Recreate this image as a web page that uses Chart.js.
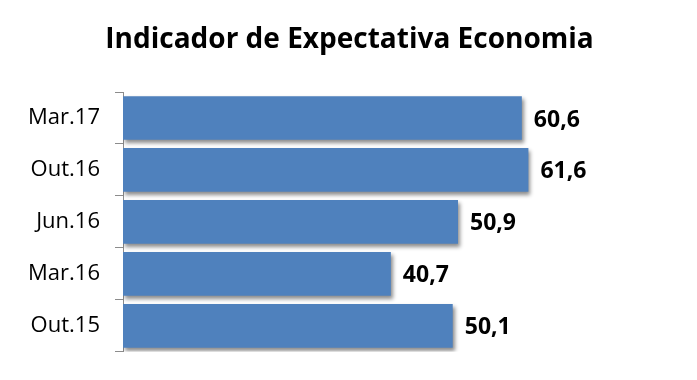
<!DOCTYPE html>
<html>
<head>
<meta charset="utf-8">
<script src="https://cdn.jsdelivr.net/npm/chart.js@4"></script>
<style>
  html, body { margin: 0; padding: 0; background: #fff; }
  #wrap { width: 697px; height: 380px; }
</style>
</head>
<body>
<div id="wrap"><canvas id="chart" width="697" height="380"></canvas></div>
<script>
/* Indicador de Expectativa Economia — horizontal bars */

const categories = ["Mar.17", "Out.16", "Jun.16", "Mar.16", "Out.15"];
const values     = [60.6, 61.6, 50.9, 40.7, 50.1];
const xMin = 0;
const xMax = 86;

// ── Soft shadow under the bars ────────────────────────────────────────────────
const barShadow = {
  id: "barShadow",
  beforeDatasetsDraw(chart) {
    const c = chart.ctx;
    c.save();
    c.shadowColor   = "rgba(0,0,0,0.45)";
    c.shadowBlur    = 4;
    c.shadowOffsetX = 2;
    c.shadowOffsetY = 3;
  },
  afterDatasetsDraw(chart) {
    chart.ctx.restore();
  },
};

// ── Value labels at bar ends ──────────────────────────────────────────────────
const valueLabels = {
  id: "valueLabels",
  afterDraw(chart) {
    const c = chart.ctx;
    const meta = chart.getDatasetMeta(0);
    c.save();
    c.font = "bold 23px 'Open Sans'";
    c.fillStyle = "#000";
    c.textAlign = "left";
    c.textBaseline = "middle";
    meta.data.forEach((bar, i) => {
      c.fillText(values[i].toFixed(1).replace(".", ","), bar.x + 12, bar.y + 2);
    });
    c.restore();
  },
};

new Chart(document.getElementById("chart"), {
  type: "bar",
  data: {
    labels: categories,
    datasets: [{
      data: values,
      backgroundColor: "#4F81BD",
      borderWidth: 0,
      categoryPercentage: 1,
      barPercentage: 0.84,
    }],
  },
  options: {
    indexAxis: "y",
    responsive: false,
    animation: false,
    layout: { padding: { left: 10, right: 8, top: 0, bottom: 25 } },
    plugins: {
      legend: { display: false },
      tooltip: { enabled: false },
      title: {
        display: true,
        text: "Indicador de Expectativa Economia",
        color: "#000",
        font: { family: "'Open Sans'", size: 28, weight: "bold", lineHeight: 1.2 },
        padding: { top: 23, bottom: 35.4 },
      },
    },
    scales: {
      x: { display: false, min: xMin, max: xMax },
      y: {
        afterFit(scale) { scale.width = 113; },
        grid: {
          offset: true,
          drawOnChartArea: false,
          drawTicks: true,
          tickLength: 8,
          color: "#8c8c8c",
        },
        border: { display: true, color: "#8c8c8c" },
        ticks: {
          padding: 15,
          color: "#000",
          font: { family: "'Open Sans'", size: 22 },
        },
      },
    },
  },
  plugins: [barShadow, valueLabels],
});
</script>
</body>
</html>
